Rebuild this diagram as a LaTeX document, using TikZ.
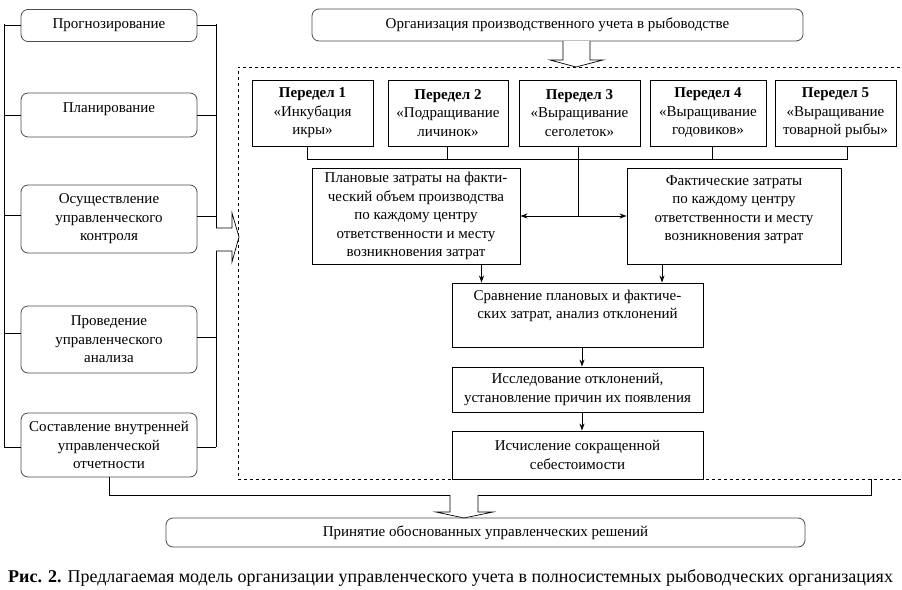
\documentclass[tikz,border=0pt]{standalone}
\usepackage{fontspec}
\setmainfont{Liberation Serif}
\usetikzlibrary{arrows.meta}
\begin{document}
\begin{tikzpicture}[x=1pt,y=-1pt,
  font=\fontsize{15}{18.5}\selectfont,
  rbox/.style={draw=black!70, line width=0.8pt, rounded corners=7pt, align=center, inner sep=0pt},
  sbox/.style={draw=black, line width=0.9pt, align=center, inner sep=0pt, fill=white},
  conn/.style={line width=0.8pt},
  arr/.style={conn, -{Stealth[length=7pt,width=5pt]}},
  darr/.style={conn, {Stealth[length=7pt,width=5pt]}-{Stealth[length=7pt,width=5pt]}},
  hollow/.style={draw=black, fill=white, line width=0.7pt, line join=miter}
]
\useasboundingbox (0,0) rectangle (902,589);

% dashed frame
\node[draw=black, dashed, line width=0.8pt, minimum width=665pt, minimum height=412pt, inner sep=0pt] (frame) at (570.5,273) {};

% left column
\node[rbox, minimum width=176pt, minimum height=32pt] (prog) at (109,25.5) {Прогнозирование};
\node[rbox, minimum width=176pt, minimum height=44pt, text depth=15pt] (plan) at (109,115) {Планирование};
\node[rbox, minimum width=176pt, minimum height=68pt] (kontr) at (109,219) {Осуществление\\управленческого\\контроля};
\node[rbox, minimum width=176pt, minimum height=67pt] (anal) at (109,339.5) {Проведение\\управленческого\\анализа};
\node[rbox, minimum width=176pt, minimum height=64pt] (sost) at (109,445) {Составление внутренней\\управленческой\\отчетности};

\coordinate (L) at (4,24);
\coordinate (R) at (216,24);
\draw[conn] (4,24) -- (4,447);
\draw[conn] (216,24) -- (216,447);
\draw[conn] (prog.west) -- (prog.west -| L);
\draw[conn] (prog.east) -- (prog.east -| R);
\draw[conn] (plan.west) -- (plan.west -| L);
\draw[conn] (plan.east) -- (plan.east -| R);
\draw[conn] ([yshift=4pt]kontr.west) -- ([yshift=4pt]kontr.west -| L);
\draw[conn] ([yshift=3pt]kontr.east) -- ([yshift=3pt]kontr.east -| R);
\draw[conn] ([yshift=6.5pt]anal.west) -- ([yshift=6.5pt]anal.west -| L);
\draw[conn] ([yshift=2.5pt]anal.east) -- ([yshift=2.5pt]anal.east -| R);
\draw[conn] ([yshift=-2pt]sost.west) -- ([yshift=-2pt]sost.west -| L);
\draw[conn] ([yshift=-2pt]sost.east) -- ([yshift=-2pt]sost.east -| R);

% hollow arrow into frame
\draw[hollow] (216,228) -- (232,228) -- (232,213) -- (239,237) -- (232,262) -- (232,251) -- (216,251);

% top box
\node[rbox, minimum width=491pt, minimum height=32pt] (org) at (557.5,25) {Организация производственного учета в рыбоводстве};
\draw[hollow] (563,41) -- (563,60) -- (550,60) -- (576,67) -- (603,60) -- (590,60) -- (590,41);

% peredel boxes
\node[sbox, minimum width=121pt, minimum height=66pt] (p1) at (312.5,113) {\textbf{Передел 1}\\«Инкубация\\икры»};
\node[sbox, minimum width=120pt, minimum height=66pt] (p2) at (448,113) {\textbf{Передел 2}\\«Подращивание\\личинок»};
\node[sbox, minimum width=121pt, minimum height=66pt] (p3) at (579.5,113) {\textbf{Передел 3}\\«Выращивание\\сеголеток»};
\node[sbox, minimum width=116pt, minimum height=66pt] (p4) at (708,113) {\textbf{Передел 4}\\«Выращивание\\годовиков»};
\node[sbox, minimum width=121pt, minimum height=66pt] (p5) at (835.5,113) {\textbf{Передел 5}\\«Выращивание\\товарной рыбы»};

\coordinate (bus) at (307,159);
\coordinate (jn) at (578,216);
\draw[conn] ([xshift=-5.5pt]p1.south) |- ([xshift=11.5pt]p5.south |- bus) -- ([xshift=11.5pt]p5.south);
\draw[conn] ([xshift=-1pt]p2.south) -- ([xshift=-1pt]p2.south |- bus);
\draw[conn] ([xshift=-1.5pt]p3.south) -- (jn);
\draw[conn] ([xshift=4pt]p4.south) -- ([xshift=4pt]p4.south |- bus);

% cost boxes
\node[sbox, minimum width=208pt, minimum height=96pt] (plank) at (416,216) {Плановые затраты на факти-\\ческий объем производства\\по каждому центру\\ответственности и месту\\возникновения затрат};
\node[sbox, minimum width=214pt, minimum height=96pt, text depth=16pt] (fakt) at (734,216) {Фактические затраты\\по каждому центру\\ответственности и месту\\возникновения затрат};
\draw[darr] (plank.east) -- (fakt.west);

\node[sbox, minimum width=251pt, minimum height=64pt, text depth=21pt] (sravn) at (577.5,315) {Сравнение плановых и фактиче-\\ских затрат, анализ отклонений};
\node[sbox, minimum width=251pt, minimum height=45pt] (issl) at (577.5,389.5) {Исследование отклонений,\\установление причин их появления};
\node[sbox, minimum width=251pt, minimum height=48pt] (isch) at (577.5,455) {Исчисление сокращенной\\себестоимости};

\draw[arr] ([xshift=65.5pt]plank.south) -- ([xshift=-96pt]sravn.north);
\draw[arr] ([xshift=-72pt]fakt.south) -- ([xshift=84.5pt]sravn.north);
\draw[arr] ([xshift=4.5pt]sravn.south) -- ([xshift=4.5pt]issl.north);
\draw[arr] ([xshift=4.5pt]issl.south) -- ([xshift=4.5pt]isch.north);

% bottom
\coordinate (rb) at (871,495);
\draw[conn] (sost.south) |- (rb) -- (rb |- frame.south);
\draw[hollow] (450,495) -- (450,512) -- (436,512) -- (464,518) -- (493,512) -- (478,512) -- (478,495);
\node[rbox, minimum width=639pt, minimum height=29pt] (dec) at (485.5,532.5) {Принятие обоснованных управленческих решений};

\node[anchor=west, inner sep=0pt, font=\fontsize{18}{20}\selectfont] (cap) at (8,578) {\textbf{Рис. 2.} Предлагаемая модель организации управленческого учета в полносистемных рыбоводческих организациях};
\end{tikzpicture}
\end{document}
